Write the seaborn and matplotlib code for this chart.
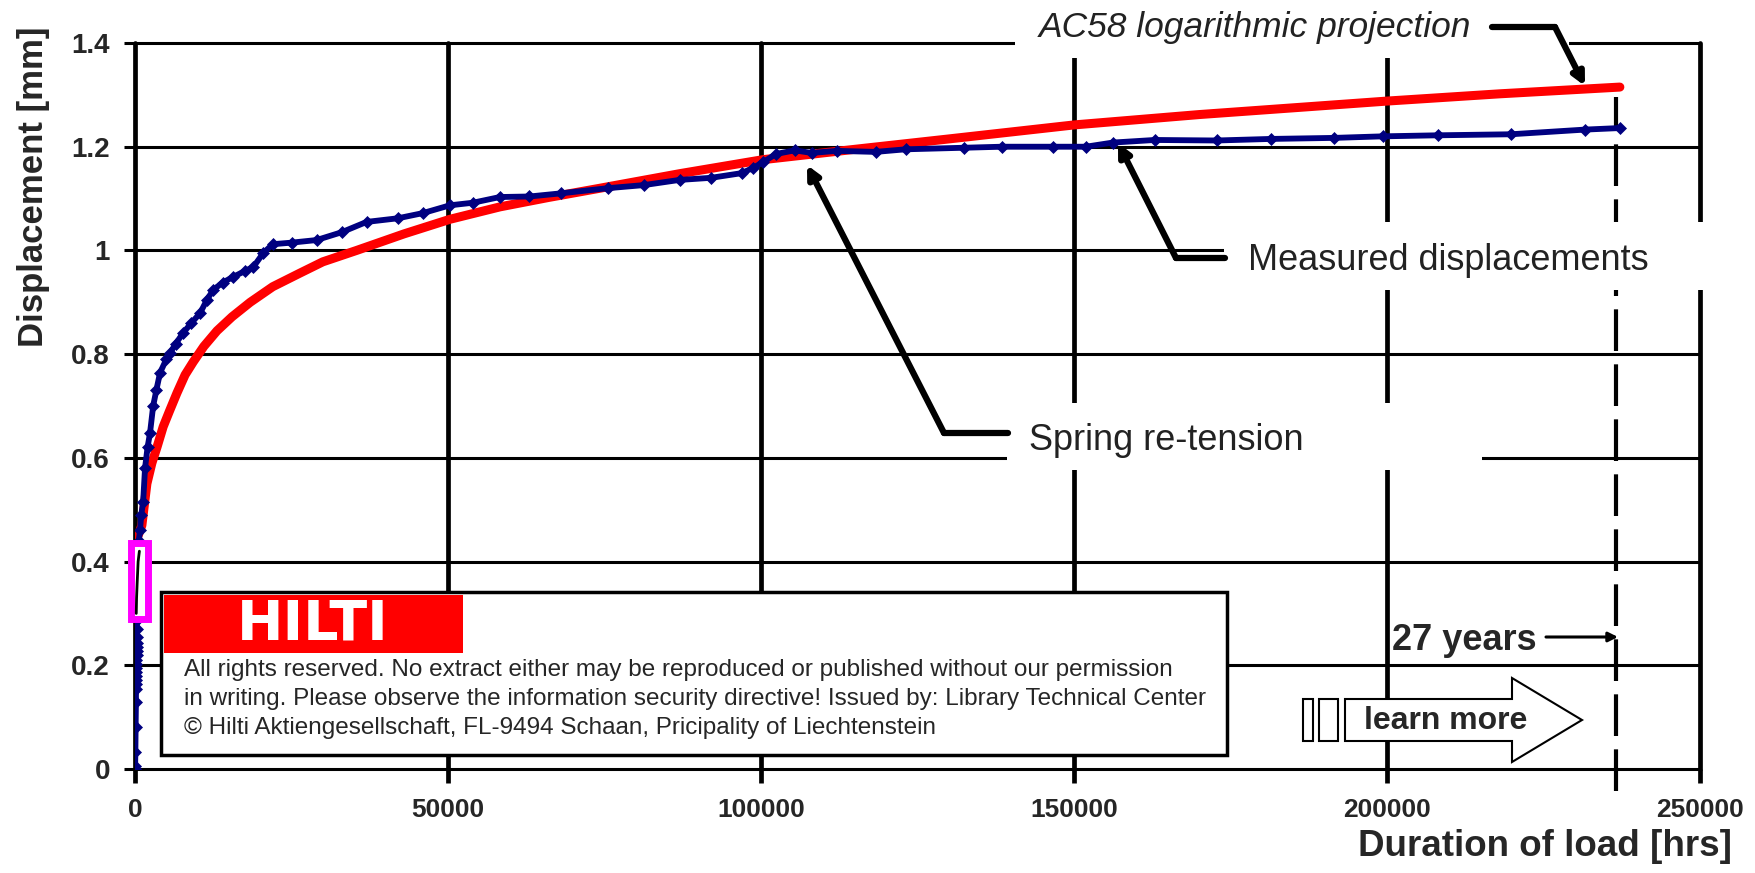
import matplotlib
matplotlib.use("Agg")
import matplotlib.pyplot as plt
import seaborn as sns
from matplotlib.patches import Rectangle, Polygon, FancyArrowPatch
from matplotlib.lines import Line2D

# measured displacement (hrs, mm)
meas_hrs = [0, 20, 60, 100, 150, 160, 170, 180, 190, 200, 210, 220, 230, 240,
            250, 260, 270, 280, 290, 300, 350, 600, 800, 1000, 1300, 1600,
            2000, 2400, 2900, 3400, 4000, 5000, 5600, 6500, 7700, 9000,
            10400, 11500, 12500, 14000, 15700, 17500, 18900, 20500, 22000,
            25000, 29000, 33000, 37000, 42000, 46000, 50300, 54000, 58300,
            63000, 68000, 75500, 81300, 87000, 92000, 96900, 98700, 100300,
            102400, 105400, 108100, 112100, 118300, 123100, 132400, 138500,
            146600, 151900, 156200, 162900, 172800, 181400, 191500, 199300,
            208100, 219800, 231600, 237200]
meas_mm = [0.0, 0.005, 0.033, 0.081, 0.13, 0.155, 0.163, 0.171, 0.179, 0.187,
           0.195, 0.203, 0.211, 0.219, 0.227, 0.235, 0.243, 0.255, 0.27, 0.287,
           0.36, 0.44, 0.46, 0.49, 0.515, 0.58, 0.62, 0.648, 0.7, 0.73, 0.764,
           0.79, 0.802, 0.82, 0.841, 0.86, 0.879, 0.905, 0.924, 0.938, 0.949,
           0.96, 0.968, 0.995, 1.012, 1.015, 1.02, 1.035, 1.055, 1.062, 1.072,
           1.087, 1.092, 1.103, 1.104, 1.11, 1.12, 1.126, 1.136, 1.14, 1.149,
           1.159, 1.17, 1.186, 1.193, 1.188, 1.192, 1.19, 1.195, 1.198, 1.2,
           1.2, 1.2, 1.208, 1.213, 1.212, 1.215, 1.217, 1.22, 1.222, 1.224,
           1.233, 1.236]

# AC58 logarithmic projection (hrs, mm)
proj_hrs = [500, 1100, 1500, 1900, 2700, 3500, 4500, 5500, 6700, 8000, 9300,
            11000, 13100, 15500, 18400, 22000, 26300, 30000, 35400, 43000,
            50300, 58300, 66000, 74300, 87000, 100300, 115000, 130000, 150000,
            170000, 185000, 200000, 218000, 237200]
proj_mm = [0.45, 0.47, 0.51, 0.55, 0.59, 0.62, 0.66, 0.69, 0.725, 0.76, 0.785,
           0.815, 0.845, 0.872, 0.9, 0.93, 0.956, 0.978, 1.0, 1.032, 1.06,
           1.084, 1.102, 1.12, 1.148, 1.175, 1.195, 1.215, 1.242, 1.262,
           1.275, 1.288, 1.302, 1.315]

# start-up section highlighted in magenta
startup_hrs = [200, 250, 350, 500, 700]
startup_mm = [0.30, 0.33, 0.36, 0.40, 0.42]
startup_box_hrs = (-700, 2000)
startup_box_mm = (0.29, 0.435)

years27_hrs = 236520

x_ticks = [0, 50000, 100000, 150000, 200000, 250000]
x_tick_labels = ["0", "50000", "100000", "150000", "200000", "250000"]
y_ticks = [0, 0.2, 0.4, 0.6, 0.8, 1.0, 1.2, 1.4]
y_tick_labels = ["0", "0.2", "0.4", "0.6", "0.8", "1", "1.2", "1.4"]

notice = ["All rights reserved. No extract either may be reproduced or published without our permission",
          "in writing. Please observe the information security directive! Issued by: Library Technical Center",
          "\u00a9 Hilti Aktiengesellschaft, FL-9494 Schaan, Pricipality of Liechtenstein"]

sns.set_theme(style="white")
plt.rcParams["font.family"] = ["Liberation Sans", "DejaVu Sans"]

W, H = 1756, 873


def fx(x):
    return x / W


def fy(y):
    return 1 - y / H


def box(x0, y0, x1, y1, **kw):
    return Rectangle((fx(x0), fy(y1)), (x1 - x0) / W, (y1 - y0) / H,
                     transform=fig.transFigure, **kw)


def connector(points, lw=4.5, head=18):
    if len(points) > 2:
        fig.add_artist(Line2D([fx(p[0]) for p in points[:-1]],
                              [fy(p[1]) for p in points[:-1]],
                              transform=fig.transFigure, color="black", lw=lw,
                              solid_joinstyle="round", zorder=6))
    a, b = points[-2], points[-1]
    fig.add_artist(FancyArrowPatch((fx(a[0]), fy(a[1])), (fx(b[0]), fy(b[1])),
                                   transform=fig.transFigure, arrowstyle="-|>",
                                   mutation_scale=head, color="black", lw=lw,
                                   shrinkA=0, shrinkB=0, zorder=6))


fig = plt.figure(figsize=(W / 100, H / 100), dpi=100)
ax = fig.add_axes([fx(135), fy(769), (1700 - 135) / W, (769 - 43) / H])

sns.lineplot(x=proj_hrs, y=proj_mm, color="#ff0000", lw=6.5, ax=ax,
             estimator=None, sort=False, zorder=2)
sns.lineplot(x=meas_hrs, y=meas_mm, color="#000080", lw=4.2, ax=ax,
             estimator=None, sort=False, marker="D", markersize=6,
             markeredgewidth=0.5, markeredgecolor="#000080", zorder=3)

ax.add_patch(Rectangle((startup_box_hrs[0], startup_box_mm[0]),
                       startup_box_hrs[1] - startup_box_hrs[0],
                       startup_box_mm[1] - startup_box_mm[0],
                       facecolor="white", edgecolor="#ff00ff", lw=5,
                       clip_on=False, zorder=4))
ax.plot(startup_hrs, startup_mm, color="black", lw=2, zorder=5, clip_on=False)

ax.axvline(years27_hrs, ymin=-0.03, ymax=0.926, color="black", lw=3,
           dashes=(10, 3.2), clip_on=False, zorder=2)

ax.set_xlim(0, 250000)
ax.set_ylim(0, 1.4)
ax.set_xticks(x_ticks)
ax.set_xticklabels(x_tick_labels, fontsize=19, fontweight="bold")
ax.set_yticks(y_ticks)
ax.set_yticklabels(y_tick_labels, fontsize=20, fontweight="bold")
ax.set_xlabel("")
ax.set_ylabel("")
ax.set_axisbelow(True)
ax.grid(True, axis="y", color="black", lw=2.2)
ax.grid(True, axis="x", color="black", lw=3.4)
for line in ax.get_xgridlines() + ax.get_ygridlines():
    line.set_clip_on(False)
ax.tick_params(axis="x", bottom=True, length=10, width=3.4, color="black",
               pad=11, direction="out")
ax.tick_params(axis="y", left=True, length=8, width=2.2, color="black",
               pad=10, direction="out")
for s in ax.spines.values():
    s.set_visible(False)

# white masks behind the annotation texts
for x0, y0, x1, y1 in [(1015, 18, 1569, 58), (1224, 222, 1712, 290),
                       (1007, 403, 1482, 470)]:
    fig.add_artist(box(x0, y0, x1, y1, facecolor="white", edgecolor="none",
                       zorder=1))

fig.text(fx(1039), fy(28), "AC58 logarithmic projection", fontsize=25.5,
         style="italic", color="#222222", ha="left", va="center", zorder=4)
fig.text(fx(1248), fy(261), "Measured displacements", fontsize=26,
         color="#222222", ha="left", va="center", zorder=4)
fig.text(fx(1029), fy(440), "Spring re-tension", fontsize=26,
         color="#222222", ha="left", va="center", zorder=4)

connector([(1492, 27), (1555, 27), (1585, 86)])
connector([(1225, 258), (1176, 258), (1118, 143)])
connector([(1008, 433), (944, 433), (807, 165)])

fig.text(fx(1392), fy(640), "27 years", fontsize=26, fontweight="bold",
         ha="left", va="center", zorder=4)
connector([(1546, 637), (1618, 637)], lw=2.2, head=14)

# copyright notice box
fig.add_artist(box(161, 592, 1227, 755, facecolor="white", edgecolor="black",
                   lw=2.5, zorder=2))
fig.add_artist(box(164, 595, 463, 653, facecolor="#ff0000", edgecolor="none",
                   zorder=3))
fig.text(fx(313), fy(624), "HILTI", fontsize=40, fontweight="bold",
         family="DejaVu Sans", color="white", ha="center", va="center",
         zorder=4)
for i, t in enumerate(notice):
    fig.text(fx(184), fy(670 + 29 * i), t, fontsize=17.5, ha="left",
             va="center", zorder=4)

# learn more button
fig.add_artist(box(1303, 699, 1313, 741, facecolor="white", edgecolor="black",
                   lw=1.5, zorder=2))
fig.add_artist(box(1319, 699, 1338, 741, facecolor="white", edgecolor="black",
                   lw=1.5, zorder=2))
arrow_px = [(1345, 699), (1512, 699), (1512, 678), (1582, 720), (1512, 762),
            (1512, 741), (1345, 741)]
fig.add_artist(Polygon([(fx(x), fy(y)) for x, y in arrow_px], closed=True,
                       transform=fig.transFigure, facecolor="white",
                       edgecolor="black", lw=1.5, zorder=2))
fig.text(fx(1446), fy(721), "learn more", fontsize=23, fontweight="bold",
         ha="center", va="center", zorder=4)

fig.text(fx(34), fy(187), "Displacement [mm]", fontsize=25, fontweight="bold",
         rotation=90, ha="center", va="center")
fig.text(fx(1545), fy(847), "Duration of load [hrs]", fontsize=26.5,
         fontweight="bold", ha="center", va="center")

fig.savefig("out.png", dpi=100)
